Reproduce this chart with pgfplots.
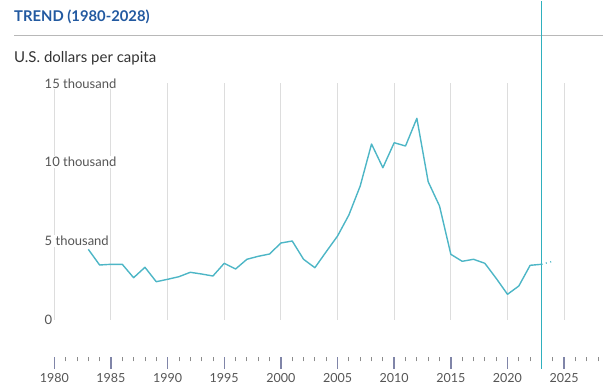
\documentclass[border=0pt]{standalone}
\usepackage{fontspec}
\setmainfont{Lato}
\usepackage{pgfplots}
\pgfplotsset{compat=1.18}
\definecolor{titleblue}{HTML}{2259A0}
\definecolor{dataline}{HTML}{4DB6C6}
\definecolor{curline}{RGB}{47,176,190}
\definecolor{gridc}{HTML}{DDDDDD}
\definecolor{txt}{HTML}{555555}
\definecolor{majt}{HTML}{8085A8}
\definecolor{mint}{HTML}{8C8C8C}
\tikzset{ylab/.style={anchor=west, fill=white, inner sep=1pt, text=txt, font=\fontsize{13}{15}\selectfont}}
\begin{document}
\begin{tikzpicture}[x=1pt,y=1pt]
\useasboundingbox (0,0) rectangle (603,387);
\node[anchor=west, inner sep=0pt, text=titleblue, font=\fontsize{14.8}{17}\selectfont\bfseries] at (14,370) {TREND (1980-2028)};
\draw[color=black!28, line width=0.8pt] (14,351.3) -- (603,351.3);
\node[anchor=west, inner sep=0pt, text=black!80, font=\fontsize{15}{17}\selectfont] at (14,329) {U.S. dollars per capita};
\begin{axis}[
  at={(54.3pt,30pt)}, anchor=south west,
  scale only axis, width=548.7pt, height=273.7pt,
  xmin=1980, xmax=2028.43, ymin=-2381, ymax=15000,
  clip=false,
  axis line style={draw=none},
  ytick=\empty,
  xtick={1980,1985,...,2025},
  minor xtick={1981,...,2028},
  xtick pos=lower,
  tick align=outside,
  major tick length=12pt, minor tick length=4.5pt,
  major tick style={draw=majt, line width=1.4pt},
  minor tick style={draw=mint, line width=0.8pt},
  xticklabel style={font=\fontsize{12.5}{14}\selectfont, text=txt, yshift=-1pt, /pgf/number format/1000 sep={}, /pgf/number format/assume math mode=true},
]
\pgfplotsinvokeforeach{1980,1985,...,2025}{
  \draw[gridc, line width=0.9pt] (axis cs:#1,0) -- (axis cs:#1,15000);
}
\fill[curline] (axis cs:2022.94,-3150) rectangle (axis cs:2023.06,20250);
\addplot[color=dataline, line width=1.4pt, line join=round] coordinates {
(1983,4458) (1984,3461) (1985,3505) (1986,3505) (1987,2654) (1988,3315) (1989,2400)
(1990,2553) (1991,2718) (1992,2997) (1993,2889) (1994,2762) (1995,3569) (1996,3207)
(1997,3823) (1998,4013) (1999,4159) (2000,4858) (2001,4985) (2002,3823) (2003,3289)
(2004,4305) (2005,5302) (2006,6636) (2007,8477) (2008,11144) (2009,9639) (2010,11227)
(2011,11017) (2012,12776) (2013,8750) (2014,7207) (2015,4140) (2016,3696) (2017,3823)
(2018,3569) (2019,2616) (2020,1600) (2021,2127) (2022,3442) (2023,3505)
};
\addplot[color=dataline, line width=1.4pt, dash pattern=on 1pt off 3.5pt] coordinates {
(2023,3505) (2024,3696)
};
\node[ylab] at (axis cs:1979.05,0) {0};
\node[ylab] at (axis cs:1979.05,5000) {5 thousand};
\node[ylab] at (axis cs:1979.05,10000) {10 thousand};
\node[ylab] at (axis cs:1979.05,15000) {15 thousand};
\end{axis}
\end{tikzpicture}
\end{document}
